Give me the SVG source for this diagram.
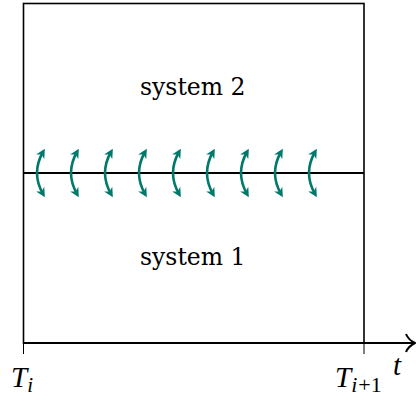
<svg xmlns="http://www.w3.org/2000/svg" width="416" height="398" viewBox="0 0 416 398">
  <style>
    .lbl { font-family: "DejaVu Serif", "Liberation Serif", serif; font-size: 23.5px; fill: #000; }
    .math { font-family: "Liberation Serif", "DejaVu Serif", serif; fill: #000; }
    .swap { fill: none; stroke: #00796B; stroke-width: 2.6; marker-start: url(#sh); marker-end: url(#sh); }
  </style>
  <defs>
    <marker id="sh" viewBox="0 0 10 10" refX="6" refY="5" markerWidth="3.6" markerHeight="3.6" orient="auto-start-reverse" markerUnits="strokeWidth">
      <path d="M0,0 L10,5 L0,10 L3,5 Z" fill="#00796B"/>
    </marker>
  </defs>
  <g id="frame">
    <rect x="23.5" y="3.5" width="340.5" height="339.5" fill="none" stroke="#000" stroke-width="1.6"/>
    <line x1="23.5" y1="173" x2="364" y2="173" stroke="#000" stroke-width="2"/>
  </g>
  <g id="system2"><text class="lbl" x="140" y="95">system 2</text></g>
  <g id="system1"><text class="lbl" x="140" y="265">system 1</text></g>
  <g id="axis">
    <line x1="23" y1="343" x2="414" y2="343" stroke="#000" stroke-width="2.2"/>
    <path d="M406,334 C408,339 411,341 415,343 C411,345 408,347 406,352" fill="none" stroke="#000" stroke-width="2"/>
    <line x1="23.5" y1="343" x2="23.5" y2="354" stroke="#000" stroke-width="1"/>
    <line x1="364" y1="343" x2="364" y2="354" stroke="#000" stroke-width="1"/>
    <text class="math" x="11" y="387" font-size="29" font-style="italic">T<tspan font-size="21" dy="5">i</tspan></text>
    <text class="math" x="335" y="387" font-size="29" font-style="italic">T<tspan font-size="22" dy="5">i</tspan><tspan font-size="22" font-style="normal" dx="1">+1</tspan></text>
    <text class="math" x="393" y="375" font-size="29" font-style="italic">t</text>
  </g>
  <g id="connectors">
    <path class="swap" d="M43,152 Q31,173 43,194"/>
    <path class="swap" d="M77,152 Q65,173 77,194"/>
    <path class="swap" d="M111,152 Q99,173 111,194"/>
    <path class="swap" d="M145,152 Q133,173 145,194"/>
    <path class="swap" d="M179,152 Q167,173 179,194"/>
    <path class="swap" d="M213,152 Q201,173 213,194"/>
    <path class="swap" d="M247,152 Q235,173 247,194"/>
    <path class="swap" d="M281,152 Q269,173 281,194"/>
    <path class="swap" d="M315,152 Q303,173 315,194"/>
  </g>
</svg>
